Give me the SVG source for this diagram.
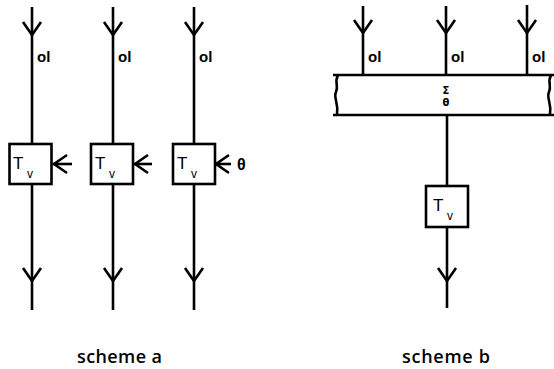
<svg xmlns="http://www.w3.org/2000/svg" width="554" height="369" viewBox="0 0 554 369">
<style>
.ln{stroke:#000;stroke-width:2.6;fill:none;stroke-linecap:butt}
.ch{stroke:#000;stroke-width:2.6;fill:none;stroke-linejoin:miter}
.bx{stroke:#000;stroke-width:2.6;fill:#fff}
.ol{font-family:"Liberation Sans",Arial,sans-serif;font-weight:bold;font-size:15px}
.t{font-family:"Liberation Sans",Arial,sans-serif;font-size:17px}
.sub{font-family:"Liberation Sans",Arial,sans-serif;font-size:12px}
.cap{font-family:"Open Sans","Lato",sans-serif;font-size:18px;font-weight:600}
.sm{font-family:"DejaVu Sans",sans-serif;font-size:10px;font-weight:bold}
</style>
<defs>
<path id="dn" d="M-9,-13 L0,0 L9,-13" class="ch"/>
<path id="lf" d="M13,-9 L0,0 L13,9" class="ch"/>
</defs>
<g id="connectors">
<line class="ln" x1="32" y1="7" x2="32" y2="310"/>
<line class="ln" x1="113" y1="7" x2="113" y2="310"/>
<line class="ln" x1="194" y1="7" x2="194" y2="310"/>
<use href="#dn" x="32" y="35"/><use href="#dn" x="113" y="35"/><use href="#dn" x="194" y="35"/>
<use href="#dn" x="32" y="281"/><use href="#dn" x="113" y="281"/><use href="#dn" x="194" y="281"/>
<line class="ln" x1="53" y1="164" x2="72" y2="164"/>
<line class="ln" x1="134" y1="164" x2="152" y2="164"/>
<line class="ln" x1="215" y1="164" x2="231" y2="164"/>
<use href="#lf" x="54" y="164"/><use href="#lf" x="135" y="164"/><use href="#lf" x="216" y="164"/>
<line class="ln" x1="363" y1="6" x2="363" y2="75"/>
<line class="ln" x1="446" y1="6" x2="446" y2="75"/>
<line class="ln" x1="527" y1="5" x2="527" y2="75"/>
<use href="#dn" x="363" y="33"/><use href="#dn" x="446" y="33"/><use href="#dn" x="527" y="33"/>
<line class="ln" x1="447" y1="115" x2="447" y2="308"/>
<use href="#dn" x="447" y="281"/>
</g>
<g id="ol-labels">
<text class="ol" x="37" y="62">ol</text>
<text class="ol" x="118" y="62">ol</text>
<text class="ol" x="199" y="62">ol</text>
<text class="ol" x="368" y="62">ol</text>
<text class="ol" x="451" y="62">ol</text>
<text class="ol" x="532" y="62">ol</text>
</g>
<g id="box-a1"><rect class="bx" x="9.5" y="144" width="42" height="40"/><text class="t" x="13" y="169">T</text><text class="sub" x="27" y="178">v</text></g>
<g id="box-a2"><rect class="bx" x="91" y="144" width="42" height="40"/><text class="t" x="95" y="169">T</text><text class="sub" x="109" y="178">v</text></g>
<g id="box-a3"><rect class="bx" x="173" y="144" width="42" height="40"/><text class="t" x="177" y="169">T</text><text class="sub" x="191" y="178">v</text></g>
<g id="theta-a"><text class="ol" x="237" y="170" style="font-size:16px">θ</text></g>
<g id="band">
<line class="ln" x1="333" y1="75" x2="554" y2="75"/>
<line class="ln" x1="333" y1="115" x2="554" y2="115"/>
<path class="ln" d="M338,75 C334,82 339,86 336,92 C333,98 339,102 337,115" stroke-width="2"/>
<path class="ln" d="M551,75 C547,82 552,86 549,92 C546,98 552,102 550,115" stroke-width="2"/>
<text class="sm" x="446" y="94" text-anchor="middle">Σ</text>
<text class="sm" x="446" y="106" text-anchor="middle">θ</text>
</g>
<g id="box-b"><rect class="bx" x="426" y="186" width="42" height="41"/><text class="t" x="433" y="211">T</text><text class="sub" x="447" y="220">v</text></g>
<g id="captions">
<text class="cap" x="77" y="363" textLength="85">scheme a</text>
<text class="cap" x="402" y="363" textLength="88">scheme b</text>
</g>
</svg>
